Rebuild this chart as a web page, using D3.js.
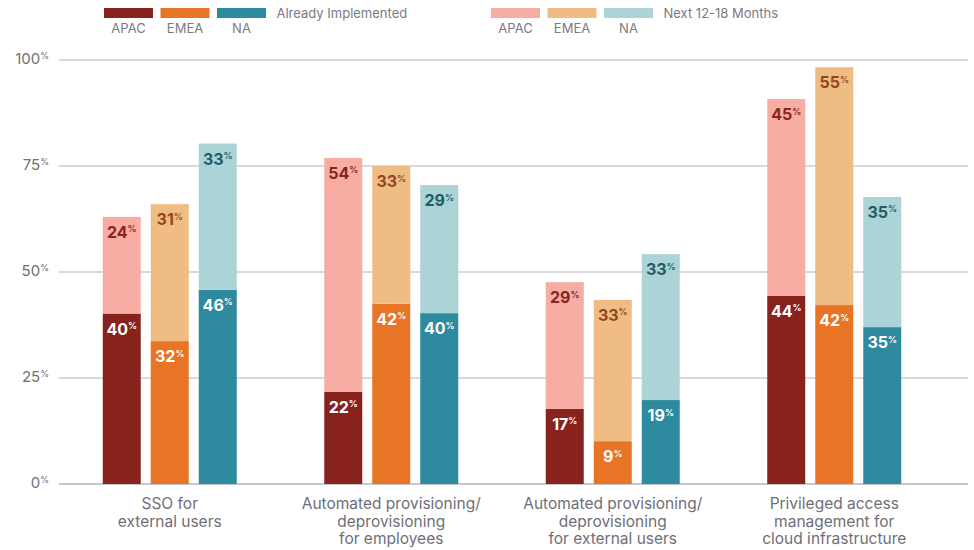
<!DOCTYPE html>
<html>
<head>
<meta charset="utf-8">
<script src="https://cdn.jsdelivr.net/npm/d3@7"></script>
<style>
  body { margin: 0; background: #fff; }
  svg { display: block; font-family: Inter, "Noto Sans", sans-serif; }
</style>
</head>
<body>
<svg id="viz"></svg>
<script>
// categories and regions
var categories = [
	["SSO for", "external users"],
	["Automated provisioning/", "deprovisioning", "for employees"],
	["Automated provisioning/", "deprovisioning", "for external users"],
	["Privileged access", "management for", "cloud infrastructure"]
];
var regions = ["APAC", "EMEA", "NA"];

// bar heights as drawn (percent)
var implAPAC = [40.2, 21.7, 17.7, 44.4];
var implEMEA = [33.7, 42.5, 10.1, 42.2];
var implNA   = [45.8, 40.3, 19.8, 37.0];
var nextAPAC = [22.8, 55.2, 29.9, 46.4];
var nextEMEA = [32.3, 32.5, 33.3, 56.1];
var nextNA   = [34.5, 30.2, 34.4, 30.7];

// printed labels
var implLabelAPAC = [40, 22, 17, 44];
var implLabelEMEA = [32, 42, 9, 42];
var implLabelNA   = [46, 40, 19, 35];
var nextLabelAPAC = [24, 54, 29, 45];
var nextLabelEMEA = [31, 33, 33, 55];
var nextLabelNA   = [33, 29, 33, 35];

var yTicks = [0, 25, 50, 75, 100];

var darkColors  = {APAC: "#88221d", EMEA: "#e87425", NA: "#2d8a9f"};
var lightColors = {APAC: "#f7ada3", EMEA: "#efbd84", NA: "#acd3d6"};
var lightText   = {APAC: "#8b241f", EMEA: "#94461e", NA: "#1e5d69"};

var width = 974;
var height = 550;

var svg = d3.select("#viz")
	.attr("width", width)
	.attr("height", height)

var y = d3.scaleLinear().domain([0, 100]).range([484, 60])

var x0 = d3.scaleBand().domain(d3.range(categories.length)).range([59, 945]).padding(0)
var x1 = d3.scaleBand().domain(regions).range([0, 134]).paddingInner(10/48).paddingOuter(0)
var groupOffset = (x0.bandwidth() - 134) / 2;

var impl = {APAC: implAPAC, EMEA: implEMEA, NA: implNA};
var next = {APAC: nextAPAC, EMEA: nextEMEA, NA: nextNA};
var implLabel = {APAC: implLabelAPAC, EMEA: implLabelEMEA, NA: implLabelNA};
var nextLabel = {APAC: nextLabelAPAC, EMEA: nextLabelEMEA, NA: nextLabelNA};

var bars = [];
categories.forEach((c, i) => {
	regions.forEach(r => {
		bars.push({cat: i, region: r, impl: impl[r][i], next: next[r][i],
			implLabel: implLabel[r][i], nextLabel: nextLabel[r][i]});
	})
})

// gridlines
svg.append("g").selectAll("line")
	.data(yTicks)
	.join("line")
	.attr("x1", 59).attr("x2", 968)
	.attr("y1", d => y(d)).attr("y2", d => y(d))
	.style("stroke", d => d == 0 ? "#b4b4be" : "#cbcbd2")
	.style("stroke-width", 1.3)

// y tick labels
var yt = svg.append("g").selectAll("text")
	.data(yTicks)
	.join("text")
	.attr("x", 49)
	.attr("y", d => y(d) + 4)
	.attr("text-anchor", "end")
	.style("fill", "#6f6f78")
	.style("font-size", "15px")
yt.append("tspan").text(d => d)
yt.append("tspan").attr("dy", -5).style("font-size", "9px").text("%")

function barX(d) { return x0(d.cat) + groupOffset + x1(d.region); }

var g = svg.append("g")

g.selectAll(".impl")
	.data(bars)
	.join("rect")
	.attr("class", "impl")
	.attr("x", barX)
	.attr("width", x1.bandwidth())
	.attr("y", d => y(d.impl))
	.attr("height", d => y(0) - y(d.impl))
	.style("fill", d => darkColors[d.region])

g.selectAll(".next")
	.data(bars)
	.join("rect")
	.attr("class", "next")
	.attr("x", barX)
	.attr("width", x1.bandwidth())
	.attr("y", d => y(d.impl + d.next))
	.attr("height", d => y(d.impl) - y(d.impl + d.next))
	.style("fill", d => lightColors[d.region])

function valueLabel(sel, cls, yFn, txt, fill) {
	var t = sel.selectAll("." + cls)
		.data(bars)
		.join("text")
		.attr("class", cls)
		.attr("x", d => barX(d) + x1.bandwidth() / 2)
		.attr("y", yFn)
		.attr("text-anchor", "middle")
		.style("font-size", "16px")
		.style("font-weight", 700)
		.style("fill", fill)
	t.append("tspan").text(txt)
	t.append("tspan").attr("dy", -5.5).style("font-size", "9px").style("font-weight", 600).text("%")
}

valueLabel(g, "implLab", d => y(d.impl) + 21, d => d.implLabel, "#fff")
valueLabel(g, "nextLab", d => y(d.impl + d.next) + 21, d => d.nextLabel, d => lightText[d.region])

// category labels
var cl = svg.append("g").selectAll("text")
	.data(categories)
	.join("text")
	.attr("x", (d, i) => x0(i) + x0.bandwidth() / 2)
	.attr("y", 509)
	.attr("text-anchor", "middle")
	.style("fill", "#6f6f78")
	.style("font-size", "15.5px")
cl.selectAll("tspan")
	.data(d => d)
	.join("tspan")
	.attr("x", function() { return this.parentNode.getAttribute("x"); })
	.attr("dy", (d, i) => i == 0 ? 0 : 17.5)
	.text(d => d)

// legend
function legend(x, colors, title) {
	var lg = svg.append("g").attr("transform", "translate(" + x + ",0)")
	lg.selectAll("rect")
		.data(regions)
		.join("rect")
		.attr("x", (d, i) => i * 56.5)
		.attr("y", 8)
		.attr("width", 49)
		.attr("height", 10)
		.style("fill", d => colors[d])
	lg.selectAll(".lgl")
		.data(regions)
		.join("text")
		.attr("class", "lgl")
		.attr("x", (d, i) => i * 56.5 + 24.5)
		.attr("y", 33)
		.attr("text-anchor", "middle")
		.style("fill", "#7a7a84")
		.style("font-size", "13px")
		.text(d => d)
	lg.append("text")
		.attr("x", 3 * 56.5 + 3)
		.attr("y", 18)
		.style("fill", "#7a7a84")
		.style("font-size", "13px")
		.text(title)
}
legend(104, darkColors, "Already Implemented")
legend(491, lightColors, "Next 12-18 Months")
</script>
</body>
</html>
